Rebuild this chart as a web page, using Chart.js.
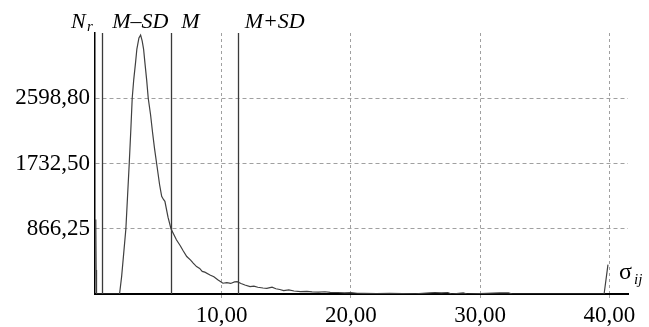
<!DOCTYPE html>
<html>
<head>
<meta charset="utf-8">
<script src="https://cdn.jsdelivr.net/npm/chart.js"></script>
<style>
  body { margin: 0; background: #fff; }
  canvas { display: block; }
</style>
</head>
<body>
<canvas id="chart" width="649" height="327"></canvas>
<script>
// --- Données ---
const sigma = [0.26, 0.27, 0.29, 0.32, 1.0, 2.1, 2.26, 2.4, 2.59, 2.72, 2.85, 2.97, 3.08, 3.2, 3.34, 3.44, 3.6, 3.73,
  3.85, 3.96, 4.06, 4.2, 4.32, 4.5, 4.65, 4.8, 4.97, 5.2, 5.36, 5.5, 5.61, 5.85, 6.08, 6.3, 6.5, 6.8,
  7.0, 7.3, 7.6, 7.8, 8.06, 8.3, 8.5, 8.7, 9.1, 9.4, 9.7, 10.1, 10.4, 10.7, 11.0, 11.2, 11.5, 11.8, 12.2, 12.5,
  12.8, 13.2, 13.5, 13.9, 14.2, 14.5, 14.8, 15.2, 15.6, 16.1, 16.6, 17.0, 17.5, 18.0, 18.4, 19.0, 19.5, 20.0, 20.5, 21.0,
  22.0, 23.0, 24.0, 25.0, 26.1, 26.5, 27.0, 27.5, 27.8, 28.7, 29.0, 31.5, 32.2, 32.5, 39.6, 39.9];
const counts = [990, 990, 320, 0, 0, 0, 231, 500, 866, 1300, 1732, 2170, 2598, 2850, 3075, 3252, 3400, 3438,
  3360, 3252, 3075, 2840, 2598, 2380, 2150, 1940, 1732, 1450, 1297, 1255, 1230, 1020, 866, 790, 720, 640,
  580, 497, 450, 410, 364, 340, 300, 290, 253, 230, 190, 143, 150, 140, 160, 164, 140, 120, 97, 105,
  90, 80, 76, 90, 70, 60, 44, 55, 40, 31, 35, 28, 25, 30, 22, 20, 15, 18, 10, 8,
  5, 8, 5, 3, 15, 20, 15, 20, 0, 15, 0, 15, 15, 0, 0, 390];

const xTicks = [10, 20, 30, 40];
const xTickLabels = ["10,00", "20,00", "30,00", "40,00"];
const yTicks = [866.25, 1732.5, 2598.75];
const yTickLabels = ["866,25", "1732,50", "2598,80"];

const markerValues = [0.76, 6.1, 11.24];
const markerLabels = ["M–SD", "M", "M+SD"];

const SERIF = '"Liberation Serif", "DejaVu Serif", serif';

// --- Lignes M, M±SD et titres des axes ---
const markersPlugin = {
  id: 'markers',
  afterDatasetsDraw(chart) {
    const { ctx, chartArea, scales } = chart;
    ctx.save();
    ctx.strokeStyle = '#3a3a3a';
    ctx.lineWidth = 1.3;
    markerValues.forEach(v => {
      const px = Math.round(scales.x.getPixelForValue(v)) + 0.5;
      ctx.beginPath();
      ctx.moveTo(px, chartArea.top);
      ctx.lineTo(px, chartArea.bottom);
      ctx.stroke();
    });

    ctx.fillStyle = '#000';
    ctx.textBaseline = 'alphabetic';
    ctx.font = 'italic 22px ' + SERIF;
    markerLabels.forEach((lbl, i) => {
      const px = scales.x.getPixelForValue(markerValues[i]);
      ctx.fillText(lbl, px + (i === 2 ? 7 : 10), 28);
    });

    // N_r
    ctx.textAlign = 'left';
    ctx.fillText('N', 71, 28);
    ctx.font = 'italic 15px ' + SERIF;
    ctx.fillText('r', 87, 31);

    // sigma_ij
    ctx.font = '24px ' + SERIF;
    ctx.fillText('σ', 619, 279);
    ctx.font = 'italic 15px ' + SERIF;
    ctx.fillText('ij', 634, 284);
    ctx.restore();
  }
};

const ctx = document.getElementById('chart').getContext('2d');
new Chart(ctx, {
  type: 'line',
  data: {
    datasets: [{
      data: sigma.map((s, i) => ({ x: s, y: counts[i] })),
      borderColor: '#404040',
      borderWidth: 1.2,
      pointRadius: 0,
      tension: 0,
      fill: false
    }]
  },
  options: {
    responsive: false,
    animation: false,
    devicePixelRatio: 1,
    layout: { padding: { top: 33, right: 21, left: 0, bottom: 0 } },
    plugins: { legend: { display: false }, tooltip: { enabled: false } },
    scales: {
      x: {
        type: 'linear',
        min: 0.2,
        max: 41.45,
        afterBuildTicks: s => { s.ticks = xTicks.map(v => ({ value: v })); },
        afterFit: s => { s.height = 33; },
        ticks: {
          color: '#000',
          font: { family: SERIF, size: 23 },
          padding: 4,
          maxRotation: 0,
          callback: (v, i) => xTickLabels[i]
        },
        grid: { color: '#a0a0a0', lineWidth: 1, tickLength: 4 },
        border: { color: '#000', width: 2, dash: [3, 3] }
      },
      y: {
        min: 0,
        max: 3465,
        afterBuildTicks: s => { s.ticks = yTicks.map(v => ({ value: v })); },
        afterFit: s => { s.width = 95; },
        ticks: {
          color: '#000',
          font: { family: SERIF, size: 23 },
          padding: 5,
          callback: (v, i) => yTickLabels[i]
        },
        grid: { color: '#a0a0a0', lineWidth: 1, drawTicks: false },
        border: { color: '#000', width: 1.5, dash: [4, 3] }
      }
    }
  },
  plugins: [markersPlugin]
});
</script>
</body>
</html>
